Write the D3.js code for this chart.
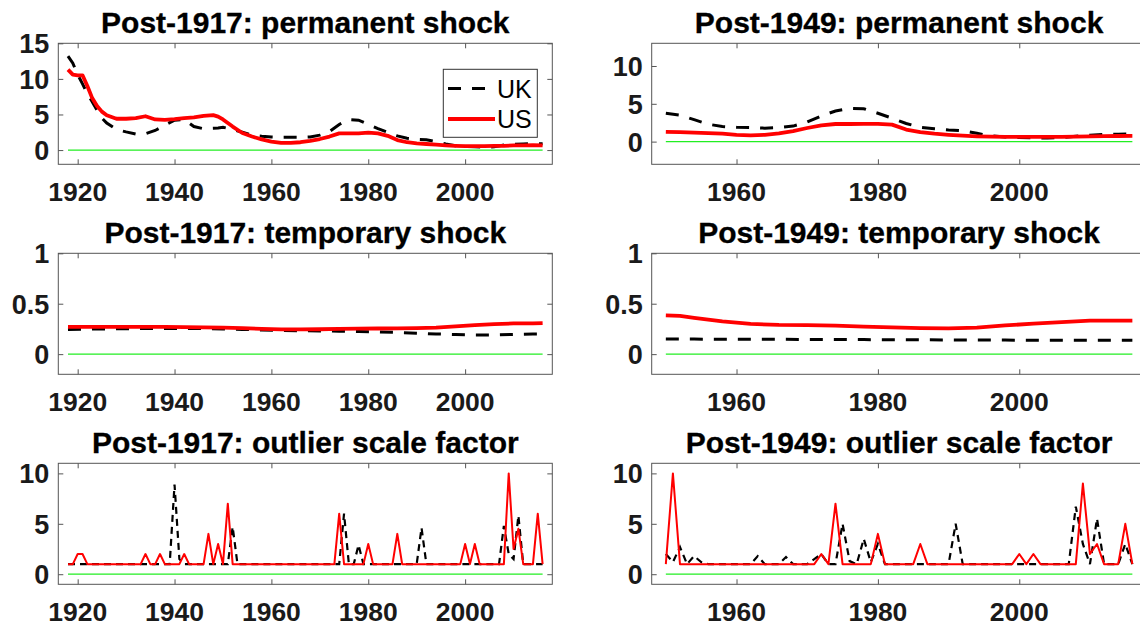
<!DOCTYPE html>
<html>
<head>
<meta charset="utf-8">
<script src="https://cdn.jsdelivr.net/npm/d3@7"></script>
<style>
  html, body { margin: 0; padding: 0; background: #fff; }
  svg { display: block; }
  text { font-family: "Liberation Sans", Arial, sans-serif; }
</style>
</head>
<body>
<svg id="chart" width="1140" height="627"></svg>
<script>
// ---------------- DATA ----------------
const seriesNames = ["UK", "US"];

const titles = [
  ["Post-1917: permanent shock", "Post-1949: permanent shock"],
  ["Post-1917: temporary shock", "Post-1949: temporary shock"],
  ["Post-1917: outlier scale factor", "Post-1949: outlier scale factor"]
];

const xTicks17 = [1920, 1940, 1960, 1980, 2000];
const xTicks49 = [1960, 1980, 2000];
const yTicksPerm17 = [0, 5, 10, 15];
const yTicksPerm49 = [0, 5, 10];
const yTicksTemp = [0, 0.5, 1];
const yTickLabelsTemp = ["0", "0.5", "1"];
const yTicksOut = [0, 5, 10];

// Row 1: permanent shock
const yearsPerm17 = [1918,1919,1920,1921,1922,1923,1924,1925,1926,1928,1930,1932,1934,1936,1938,1940,1942,1944,1946,1948,1949,1950,1952,1954,1956,1958,1960,1962,1964,1966,1968,1970,1972,1974,1976,1978,1980,1982,1984,1986,1988,1990,1992,1994,1996,1998,2000,2002,2004,2006,2008,2010,2012,2014,2016];
const usPerm17 = [11.3,10.6,10.5,10.5,9.0,7.3,6.2,5.4,4.9,4.4,4.4,4.5,4.75,4.3,4.25,4.35,4.5,4.6,4.8,4.9,4.7,4.3,3.3,2.4,1.9,1.5,1.2,1.0,1.0,1.1,1.3,1.55,1.9,2.35,2.35,2.35,2.45,2.35,2.0,1.4,1.1,0.95,0.85,0.75,0.65,0.6,0.55,0.55,0.55,0.6,0.6,0.65,0.65,0.7,0.65];
const ukPerm17 = [13.2,12.2,10.6,9.3,7.9,6.8,5.6,4.5,3.8,2.9,2.55,2.25,2.3,2.75,3.5,4.2,4.3,3.3,3.0,3.05,3.1,3.2,2.9,2.5,2.1,1.95,1.85,1.8,1.8,1.8,1.85,2.1,2.6,3.6,4.3,4.2,3.6,3.0,2.5,2.0,1.65,1.5,1.45,1.2,0.85,0.6,0.5,0.45,0.4,0.45,0.7,0.8,0.85,0.9,0.9];

const yearsPerm49 = [1950,1952,1954,1956,1958,1960,1962,1964,1966,1968,1970,1972,1974,1976,1978,1980,1982,1984,1986,1988,1990,1992,1994,1996,1998,2000,2002,2004,2006,2008,2010,2012,2014,2016];
const usPerm49 = [1.3,1.25,1.18,1.12,1.05,0.9,0.83,0.9,1.1,1.4,1.8,2.15,2.33,2.33,2.35,2.35,2.25,1.6,1.25,1.05,0.9,0.78,0.7,0.65,0.62,0.62,0.62,0.62,0.63,0.66,0.7,0.72,0.74,0.75];
const ukPerm49 = [3.75,3.5,2.9,2.3,2.0,1.9,1.85,1.78,1.85,2.05,2.6,3.4,4.05,4.4,4.35,3.75,3.1,2.4,1.9,1.7,1.55,1.45,1.1,0.75,0.62,0.55,0.5,0.48,0.55,0.7,0.85,0.95,0.98,1.0];

// Row 2: temporary shock
const yearsTemp17 = [1918,1922,1926,1930,1934,1938,1942,1946,1950,1954,1958,1962,1966,1970,1974,1978,1982,1986,1990,1994,1998,2002,2006,2010,2014,2016];
const usTemp17 = [0.27,0.27,0.27,0.27,0.27,0.27,0.268,0.265,0.263,0.258,0.25,0.246,0.245,0.247,0.25,0.252,0.254,0.255,0.257,0.263,0.275,0.287,0.297,0.305,0.306,0.308];
const ukTemp17 = [0.245,0.248,0.25,0.252,0.254,0.255,0.255,0.253,0.25,0.245,0.24,0.235,0.232,0.23,0.228,0.225,0.22,0.215,0.208,0.2,0.195,0.19,0.19,0.195,0.2,0.2];

const yearsTemp49 = [1950,1952,1954,1958,1962,1966,1970,1974,1978,1982,1986,1990,1994,1998,2002,2006,2010,2014,2016];
const usTemp49 = [0.385,0.38,0.36,0.325,0.3,0.29,0.287,0.283,0.272,0.265,0.258,0.255,0.263,0.285,0.302,0.318,0.332,0.333,0.333];
const ukTemp49 = [0.15,0.149,0.149,0.148,0.148,0.147,0.146,0.145,0.144,0.143,0.142,0.141,0.14,0.139,0.138,0.138,0.137,0.137,0.137];

// Row 3: outlier scale factor (annual)
const yearsOut17 = d3.range(1918, 2017);
const usOut17 = [
  1,1,
  2,2,1,1,1,1,1,1,1,1,
  1,1,1,1,2,1,1,2,1,1,
  1,1,2,1,1,1,1,4,1,3,
  1,7,1,1,1,1,1,1,1,1,
  1,1,1,1,1,1,1,1,1,1,
  1,1,1,1,6,1,1,1,1,1,
  3,1,1,1,1,1,4,1,1,1,
  1,1,1,1,1,1,1,1,1,1,
  3,1,3,1,1,1,1,1,1,10,
  2.5,4.5,1,1,1,6,1
];
const ukOut17 = [
  1,1,
  1,1,1,1,1,1,1,1,1,1,
  1,1,1,1,1,1,1,1,1,1,
  8.9,1.5,1,1,1,1,1,1,1,1,
  1,1,4.7,1,1,1,1,1,1,1,
  1,1,1,1,1,1,1,1,1,1,
  1,1,1,1,1,6,1,1,2.9,1,
  1,1,1,1,1,1,1,1,1,1,
  1,4.6,1,1,1,1,1,1,1,1,
  1,1,1,1,1,1,1,1,4.8,2,
  1.5,5.8,1,1,1,1,1
];

const yearsOut49 = d3.range(1950, 2017);
const usOut49 = [
  1,10,1,1,1,1,1,1,1,1,
  1,1,1,1,1,1,1,1,1,1,
  1,1,2,1,7,1,1,1,1,1,
  4,1,1,1,1,1,3,1,1,1,
  1,1,1,1,1,1,1,1,1,1,
  2,1,2,1,1,1,1,1,1,9,
  2,3,1,1,1,5,1
];
const ukOut49 = [
  2,1.2,2.7,1,1.8,1.2,1,1,1,1,
  1,1,1,1.8,1,1,1,1.7,1,1,
  1,1.5,2,1,1,5,1.3,1,3.5,1.2,
  3,1,1,1,1,1,1,1,1,1,
  1,5,1,1,1,1,1,1,1,1,
  1,1,1,1,1,1,1,1,6.7,3,
  1,5.5,1,1,1,3,1
];

// ---------------- LAYOUT ----------------
const svg = d3.select("#chart");
const colBox = [
  { x0: 58.3, x1: 552.3, domain: [1916, 2018], ticks: xTicks17 },
  { x0: 651.7, x1: 1146.5, domain: [1948, 2018], ticks: xTicks49 }
];
const rowTop = [43.3, 253.3, 463.3];
const boxH = 121;

const panels = [
  { r:0, c:0, years: yearsPerm17, uk: ukPerm17, us: usPerm17, ylim: [-2, 15], yt: yTicksPerm17, ytl: yTicksPerm17.map(String), legend: true },
  { r:0, c:1, years: yearsPerm49, uk: ukPerm49, us: usPerm49, ylim: [-3, 13], yt: yTicksPerm49, ytl: yTicksPerm49.map(String) },
  { r:1, c:0, years: yearsTemp17, uk: ukTemp17, us: usTemp17, ylim: [-0.2, 1], yt: yTicksTemp, ytl: yTickLabelsTemp },
  { r:1, c:1, years: yearsTemp49, uk: ukTemp49, us: usTemp49, ylim: [-0.2, 1], yt: yTicksTemp, ytl: yTickLabelsTemp },
  { r:2, c:0, years: yearsOut17, uk: ukOut17, us: usOut17, ylim: [-1, 11], yt: yTicksOut, ytl: yTicksOut.map(String), thin: true },
  { r:2, c:1, years: yearsOut49, uk: ukOut49, us: usOut49, ylim: [-1, 11], yt: yTicksOut, ytl: yTicksOut.map(String), thin: true }
];

const axisColor = "#555";
const textColor = "#1a1a1a";
const tickLen = 5;

panels.forEach(p => {
  const cb = colBox[p.c];
  const top = rowTop[p.r], bottom = top + boxH;
  const x = d3.scaleLinear().domain(cb.domain).range([cb.x0, cb.x1]);
  const y = d3.scaleLinear().domain(p.ylim).range([bottom, top]);
  const g = svg.append("g");

  // title
  g.append("text")
    .attr("x", (cb.x0 + cb.x1) / 2)
    .attr("y", top - 10)
    .attr("text-anchor", "middle")
    .attr("font-size", 30)
    .attr("font-weight", "bold")
    .attr("fill", "#000")
    .attr("stroke", "#000").attr("stroke-width", 0.3)
    .text(titles[p.r][p.c]);

  // box
  g.append("rect")
    .attr("x", cb.x0).attr("y", top)
    .attr("width", cb.x1 - cb.x0).attr("height", boxH)
    .attr("fill", "none").attr("stroke", axisColor).attr("stroke-width", 1);

  // axes using d3 axis generators (ticks inward)
  const xb = d3.axisBottom(x).tickValues(cb.ticks).tickSize(-tickLen).tickFormat("");
  const xt = d3.axisTop(x).tickValues(cb.ticks).tickSize(-tickLen).tickFormat("");
  const yl = d3.axisLeft(y).tickValues(p.yt).tickSize(-tickLen).tickFormat("");
  const yr = d3.axisRight(y).tickValues(p.yt).tickSize(-tickLen).tickFormat("");
  [[xb, `translate(0,${bottom})`], [xt, `translate(0,${top})`], [yl, `translate(${cb.x0},0)`], [yr, `translate(${cb.x1},0)`]]
    .forEach(([ax, tr]) => {
      const a = g.append("g").attr("transform", tr).call(ax);
      a.select(".domain").remove();
      a.selectAll("line").attr("stroke", axisColor);
    });

  // tick labels
  g.selectAll(".xl").data(cb.ticks).enter().append("text")
    .attr("x", d => x(d)).attr("y", bottom + 36.5)
    .attr("text-anchor", "middle").attr("font-size", 26.5).attr("font-weight", "bold")
    .attr("fill", textColor).text(d => d);
  g.selectAll(".yl").data(p.yt).enter().append("text")
    .attr("x", cb.x0 - 9).attr("y", d => y(d) + 10)
    .attr("text-anchor", "end").attr("font-size", 27).attr("font-weight", "bold")
    .attr("fill", textColor).text((d, i) => p.ytl[i]);

  // zero line
  const yrs = p.years;
  g.append("line")
    .attr("x1", x(yrs[0])).attr("x2", x(yrs[yrs.length - 1]))
    .attr("y1", y(0)).attr("y2", y(0))
    .attr("stroke", "#22ee22").attr("stroke-width", 1.3);

  const line = d3.line().x((d, i) => x(yrs[i])).y(d => y(d));
  g.append("path").datum(p.uk).attr("d", line)
    .attr("fill", "none").attr("stroke", "#000")
    .attr("stroke-width", p.thin ? 2.2 : 3)
    .attr("stroke-dasharray", p.thin ? "7,5" : "13,11");
  g.append("path").datum(p.us).attr("d", line)
    .attr("fill", "none").attr("stroke", "#ff0000")
    .attr("stroke-width", p.thin ? 2 : 3.8)
    .attr("stroke-linejoin", "round");

  if (p.legend) {
    const lx0 = 443.3, ly0 = 69.3, lw = 94, lh = 68;
    const lg = g.append("g");
    lg.append("rect").attr("x", lx0).attr("y", ly0).attr("width", lw).attr("height", lh)
      .attr("fill", "#fff").attr("stroke", "#333").attr("stroke-width", 1);
    const rows = [
      { name: seriesNames[0], color: "#000", dash: "13,11", w: 3, cy: 88.5 },
      { name: seriesNames[1], color: "#ff0000", dash: null, w: 3.8, cy: 119 }
    ];
    rows.forEach(r => {
      lg.append("line").attr("x1", 448).attr("x2", 495).attr("y1", r.cy).attr("y2", r.cy)
        .attr("stroke", r.color).attr("stroke-width", r.w)
        .attr("stroke-dasharray", r.dash);
      lg.append("text").attr("x", 497).attr("y", r.cy + 9)
        .attr("font-size", 25).attr("fill", "#000").text(r.name);
    });
  }
});
</script>
</body>
</html>
